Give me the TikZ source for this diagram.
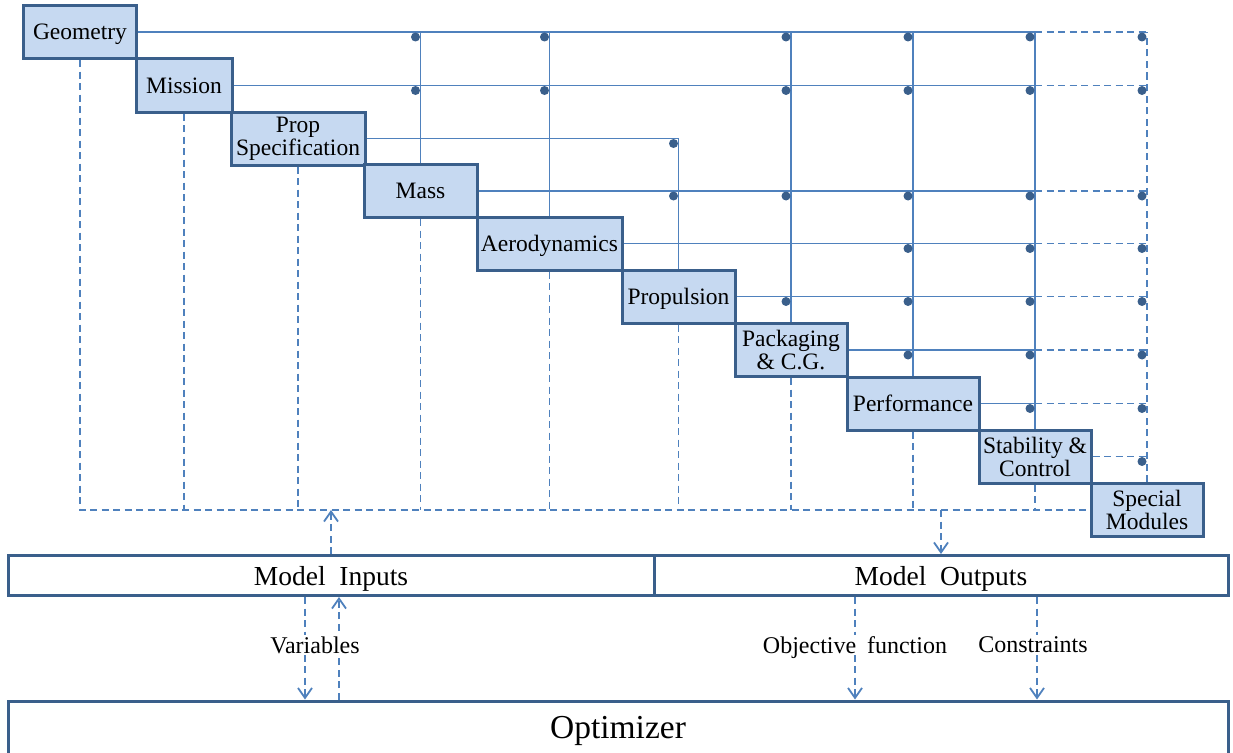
\documentclass[tikz,border=0pt]{standalone}
\usepackage{fontspec}
\setmainfont{Liberation Serif}
\usetikzlibrary{arrows.meta,calc}
\definecolor{boxfill}{HTML}{C6D9F1}
\definecolor{boxline}{HTML}{3A5F8B}
\definecolor{flowline}{HTML}{4F81BD}
\definecolor{dotc}{HTML}{3A5F8B}
\newcommand\mydot[2]{\fill[dotc] ($(#1.east -| #2.north)+(-5,5)$) circle (4.5);}
\begin{document}
\begin{tikzpicture}[x=1pt,y=-1pt,
  blk/.style={draw=boxline, line width=3pt, fill=boxfill, inner sep=0pt, align=center,
    font=\fontsize{23.5}{23}\selectfont, minimum height=53pt},
  sl/.style={text depth=0pt},
  wbox/.style={draw=boxline, line width=3pt, fill=white, inner sep=0pt, text depth=0pt},
  flow/.style={draw=flowline, line width=1.8pt},
  flowd/.style={draw=flowline, line width=1.8pt, dash pattern=on 7pt off 4.5pt},
  tip/.style={-{Straight Barb[length=10pt,width=14pt]}},
  lbl/.style={fill=white, inner sep=2pt, text depth=0pt, font=\fontsize{24}{24}\selectfont}]
\useasboundingbox (0,0) rectangle (1233,752);
\fill[white] (0,0) rectangle (1233,752);

% module boxes
\node[blk, sl, minimum width=113pt] (geo)   at (80,32)      {Geometry};
\node[blk, sl, minimum width=96pt]  (mis)   at (184,85.5)   {Mission};
\node[blk, minimum width=134pt] (prop)  at (298,138.5)  {Prop\\Specification};
\node[blk, sl, minimum width=113pt] (mass)  at (420.5,191)  {Mass};
\node[blk, sl, minimum width=145pt] (aero)  at (549.5,243.5){Aerodynamics};
\node[blk, sl, minimum width=113pt] (propl) at (678.5,296.5){Propulsion};
\node[blk, minimum width=112pt] (pack)  at (791,350)    {Packaging\\\& C.G.};
\node[blk, sl, minimum width=132pt] (perf)  at (913,403.5)  {Performance};
\node[blk, minimum width=112pt] (stab)  at (1035,456.5) {Stability \&\\Control};
\node[blk, minimum width=112pt] (spec)  at (1147,510)   {Special\\Modules};

% model inputs / outputs and optimizer
\node[wbox, minimum width=646pt, minimum height=40pt, font=\fontsize{27.5}{27}\selectfont] (inputs)  at (331,575.5) {Model\hspace{0.5em}Inputs};
\node[wbox, minimum width=574pt, minimum height=40pt, font=\fontsize{27.5}{27}\selectfont] (outputs) at (941,575.5) {Model\hspace{0.5em}Outputs};
\node[draw=boxline, line width=3pt, fill=white, inner sep=0pt, minimum width=1220pt, minimum height=60pt, font=\fontsize{33.5}{33}\selectfont] (opt) at (618,731) {Optimizer};

% horizontal rows (solid part)
\foreach \r in {geo,mis,mass,aero,propl,pack,perf}
  \draw[flow] (\r.east) -- (\r.east -| stab.north);
\draw[flow] (prop.east) -| (propl.north);
% horizontal rows (dashed part)
\foreach \r in {geo,mis,mass,aero,propl,pack,perf}
  \draw[flowd] (\r.east -| stab.north) -- (\r.east -| spec.north);
\draw[flowd] (stab.east) -- (stab.east -| spec.north);

% vertical columns
\foreach \c in {mass,aero,pack,perf,stab}
  \draw[flow] (\c.north) -- (\c.north |- geo.east);
\draw[flowd] (spec.north) -- (spec.north |- geo.east);

% dots
\foreach \c in {mass,aero,pack,perf,stab,spec} {\mydot{geo}{\c}\mydot{mis}{\c}}
\mydot{prop}{propl}
\foreach \c in {propl,pack,perf,stab,spec} {\mydot{mass}{\c}}
\foreach \c in {perf,stab,spec} {\mydot{aero}{\c}}
\foreach \c in {pack,perf,stab,spec} {\mydot{propl}{\c}}
\foreach \c in {perf,stab,spec} {\mydot{pack}{\c}}
\foreach \c in {stab,spec} {\mydot{perf}{\c}}
\mydot{stab}{spec}

% bottom bus
\coordinate (busL) at (geo.south |- spec.west);
\draw[flowd] (geo.south) -- (busL) -- (spec.west);
\foreach \b in {mis,prop,mass,aero,propl,pack,perf,stab}
  \draw[flowd] (\b.south) -- (\b.south |- spec.west);

% bus <-> model
\draw[flowd, tip] (inputs.north) -- (inputs.north |- spec.west);
\draw[flowd, tip] (outputs.north |- spec.west) -- (outputs.north);

% model <-> optimizer
\coordinate (vdown) at ($(inputs.south)+(-26,0)$);
\coordinate (vup)   at ($(inputs.south)+(8,0)$);
\coordinate (obj)   at ($(outputs.south)+(-86,0)$);
\coordinate (con)   at ($(outputs.south)+(96,0)$);
\draw[flowd, tip] (vdown) -- (vdown |- opt.north);
\draw[flowd, tip] (vup |- opt.north) -- (vup);
\draw[flowd, tip] (obj) -- (obj |- opt.north);
\draw[flowd, tip] (con) -- (con |- opt.north);

\node[lbl] (var) at (315,645) {Variables};
\node[lbl] (objl) at (855,645) {Objective\hspace{0.45em}function};
\node[lbl] (conl) at (1033,645) {Constraints};
\end{tikzpicture}
\end{document}
